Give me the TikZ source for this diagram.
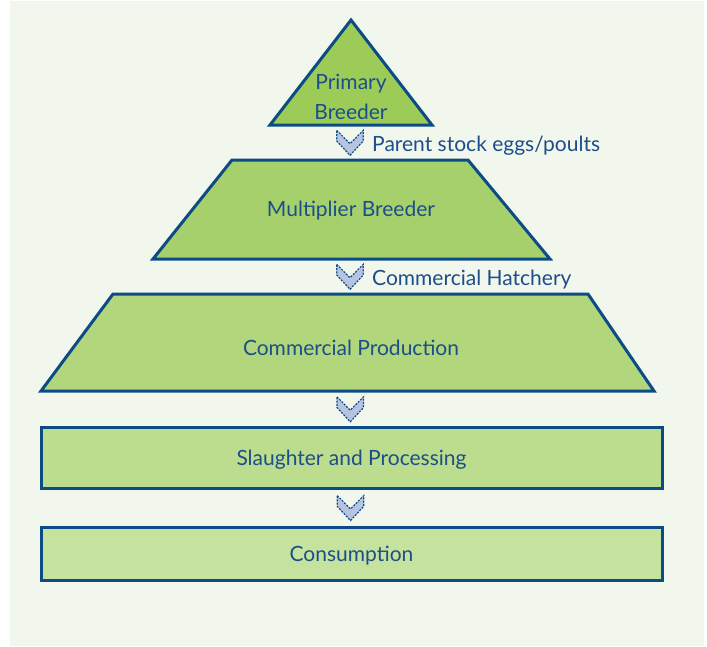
\documentclass[tikz,border=0pt]{standalone}
\usepackage{fontspec}
\setmainfont{Lato}
\usetikzlibrary{positioning,calc}

\definecolor{panel}{HTML}{F1F7EC}
\definecolor{edgeblue}{HTML}{0D4B85}
\definecolor{textblue}{HTML}{1C4E8A}
\definecolor{chevfill}{HTML}{B6C3E1}
\definecolor{greenA}{HTML}{9CCB58}
\definecolor{greenB}{HTML}{A6D06B}
\definecolor{greenC}{HTML}{B1D67C}
\definecolor{greenD}{HTML}{BCDC8E}
\definecolor{greenE}{HTML}{C6E29F}

\begin{document}
\begin{tikzpicture}[
        x=1pt, y=-1pt,
        font=\fontsize{21}{30}\selectfont,
        text=textblue,
        level/.style={draw=edgeblue, line width=3pt, line join=miter},
        caption/.style={inner sep=0pt, align=center, yshift=-2pt},
        bar/.style={level, outer sep=0pt, inner sep=0pt, minimum width=621pt, text depth=0pt},
        tag/.style={inner sep=0pt, anchor=west, yshift=-3pt},
        chev/.pic={
            \draw[fill=chevfill, draw=edgeblue, line width=1.2pt, dash pattern=on 2pt off 1.3pt]
                (-13.3,-12.2) -- (0,1.2) -- (13.3,-12.2) -- (13.3,-1.5) -- (0,12.8) -- (-13.3,-1.5) -- cycle;
        }
    ]
    % page and panel
    \useasboundingbox[fill=white] (0,0) rectangle (707,646);
    \fill[panel] (10,1) rectangle (704,646);

    % top of the pyramid
    \coordinate (apex) at (351,20);
    \coordinate (priL) at (270,125);
    \coordinate (priR) at (432,125);
    \draw[level, fill=greenA] (apex) -- (priR) -- (priL) -- cycle;
    \node[caption] (primary) at (351,95) {Primary\\Breeder};

    % the two trapezium levels
    \coordinate (mulTL) at (232,160);
    \coordinate (mulTR) at (468,160);
    \coordinate (mulBR) at (550,259);
    \coordinate (mulBL) at (153,259);
    \draw[level, fill=greenB] (mulTL) -- (mulTR) -- (mulBR) -- (mulBL) -- cycle;
    \node[caption] (multiplier) at (351,209) {Multiplier Breeder};

    \coordinate (comTL) at (113,294);
    \coordinate (comTR) at (588,294);
    \coordinate (comBR) at (654,391);
    \coordinate (comBL) at (41,391);
    \draw[level, fill=greenC] (comTL) -- (comTR) -- (comBR) -- (comBL) -- cycle;
    \node[caption] (commercial) at (351,346) {Commercial Production};

    % the two bars
    \node[bar, fill=greenD, minimum height=61pt] (slaughter) at (351.5,457.5) {Slaughter and Processing};
    \node[bar, fill=greenE, minimum height=53pt] (consumption) at (351.5,554) {Consumption};

    % flow between the levels
    \coordinate (c1) at ($(apex|-priL)!0.5!(apex|-mulTL)$);
    \coordinate (c2) at ($(apex|-mulBL)!0.5!(apex|-comTL)$);
    \coordinate (c3) at ($(apex|-comBL)!0.5!(slaughter.north)$);
    \coordinate (c4) at ($(slaughter.south)!0.5!(consumption.north)$);
    \foreach \c in {c1,c2,c3,c4}
        \pic at ([xshift=-1pt]\c) {chev};

    \node[tag, right=21pt of c1] (eggs) {Parent stock eggs/poults};
    \node[tag, right=21pt of c2] (hatchery) {Commercial Hatchery};
\end{tikzpicture}
\end{document}
